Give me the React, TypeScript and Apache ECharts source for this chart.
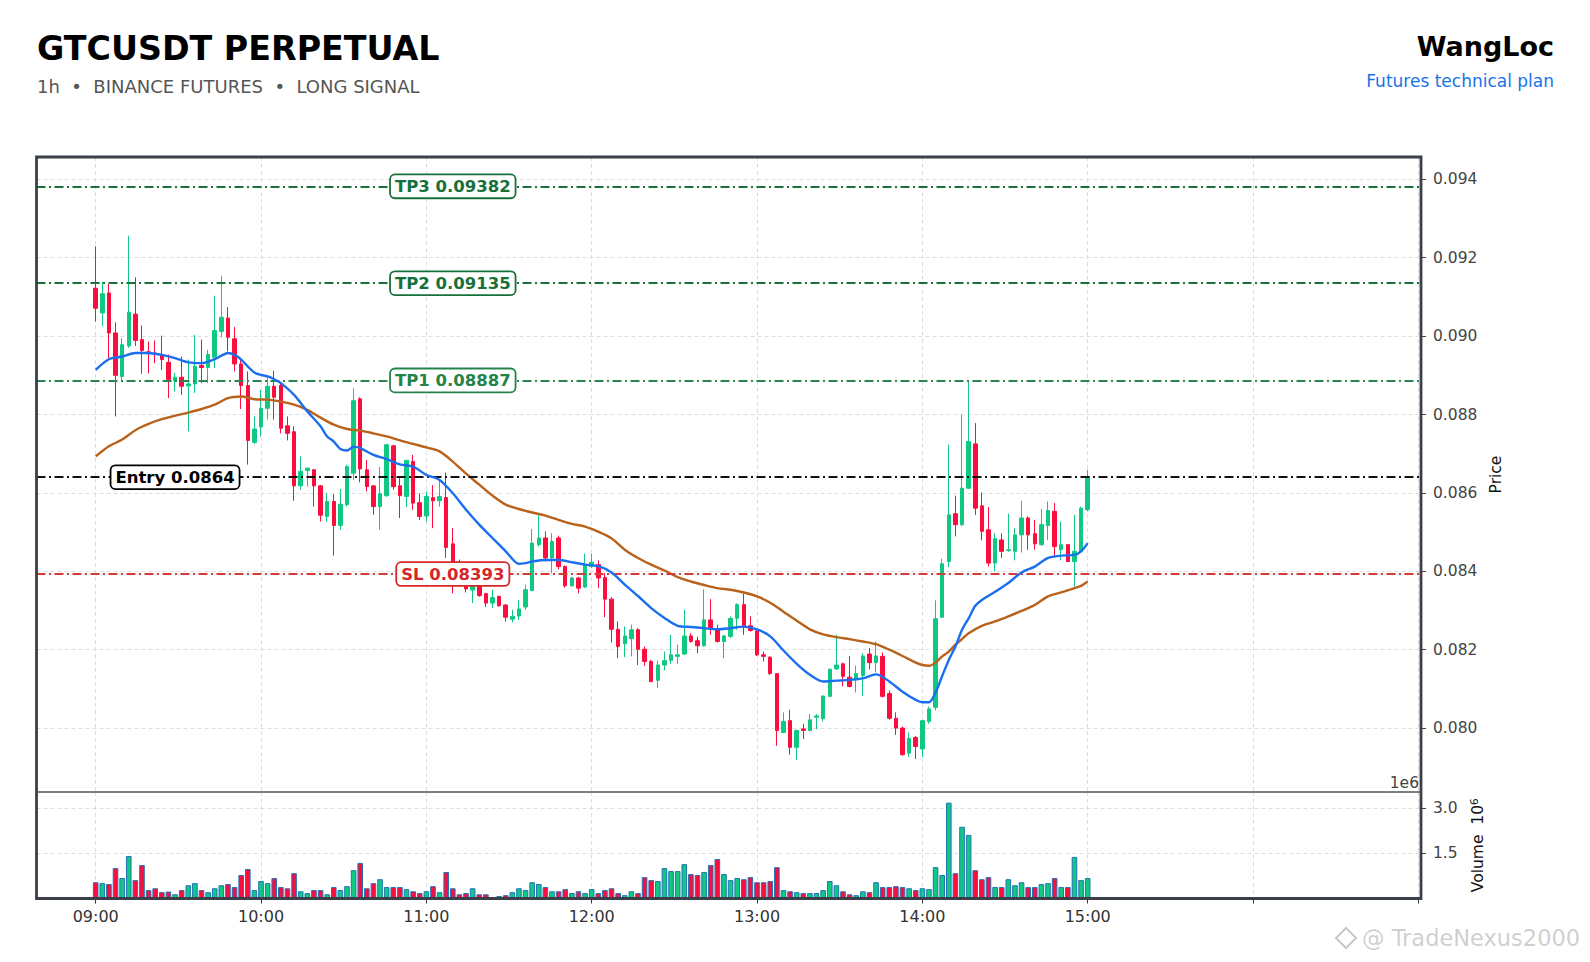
import React, { useEffect, useRef } from "react";
import * as echarts from "echarts";

// ---- Data ----
// candles: [open, close, low, high], one per 2.4-min slot from 09:00 (index 0) to 15:00 (index 150)
const candles: number[][] = [
  [0.09122, 0.09071, 0.09037, 0.09229], [0.09059, 0.09108, 0.09025, 0.09139], [0.0911, 0.09008, 0.08944, 0.09133],
  [0.09008, 0.089, 0.08795, 0.09035], [0.08897, 0.08978, 0.08883, 0.08995], [0.08975, 0.09061, 0.0897, 0.09256],
  [0.09056, 0.08989, 0.08975, 0.0915], [0.08991, 0.08963, 0.08904, 0.09027], [0.0896, 0.08955, 0.08905, 0.08986],
  [0.08957, 0.08953, 0.08931, 0.08989], [0.08953, 0.0894, 0.08914, 0.09001], [0.08933, 0.08889, 0.08842, 0.08953],
  [0.08887, 0.08895, 0.08859, 0.08906], [0.08895, 0.08872, 0.0885, 0.08948], [0.08873, 0.08878, 0.08757, 0.0894],
  [0.08878, 0.08923, 0.08855, 0.09003], [0.08925, 0.0892, 0.0888, 0.08991], [0.0892, 0.08953, 0.0888, 0.08965],
  [0.08946, 0.09014, 0.08918, 0.09103], [0.09012, 0.09048, 0.08997, 0.09154], [0.09046, 0.08997, 0.08961, 0.09074],
  [0.08993, 0.08929, 0.0891, 0.09023], [0.08929, 0.08874, 0.08814, 0.0894], [0.08874, 0.08734, 0.08672, 0.0891],
  [0.08729, 0.08763, 0.08725, 0.08795], [0.08768, 0.08816, 0.08744, 0.08863], [0.08816, 0.08872, 0.08787, 0.08895],
  [0.08872, 0.08844, 0.08787, 0.08912], [0.08874, 0.08765, 0.08752, 0.0888], [0.08771, 0.08752, 0.08734, 0.08795],
  [0.08756, 0.08618, 0.0858, 0.0877], [0.08618, 0.08655, 0.08608, 0.08693], [0.08657, 0.08663, 0.08616, 0.08665],
  [0.08659, 0.08618, 0.08565, 0.08661], [0.08618, 0.08543, 0.08527, 0.0862], [0.0854, 0.08578, 0.08526, 0.086],
  [0.08578, 0.08517, 0.0844, 0.08597], [0.08517, 0.08571, 0.08506, 0.0861], [0.0857, 0.08667, 0.08565, 0.08672],
  [0.0865, 0.08835, 0.08633, 0.08867], [0.0884, 0.08661, 0.08627, 0.08844], [0.08659, 0.08616, 0.08604, 0.08684],
  [0.08618, 0.08565, 0.08544, 0.0862], [0.08565, 0.08598, 0.08506, 0.08666], [0.08593, 0.08723, 0.0859, 0.08725],
  [0.0872, 0.08616, 0.08608, 0.08723], [0.08618, 0.08593, 0.08536, 0.08642], [0.08591, 0.08683, 0.08564, 0.08683],
  [0.0868, 0.08574, 0.08557, 0.08697], [0.08575, 0.0854, 0.08531, 0.08599], [0.08541, 0.08591, 0.08527, 0.08604],
  [0.08588, 0.0858, 0.0851, 0.0862], [0.0858, 0.08591, 0.08565, 0.08633], [0.08588, 0.08461, 0.08434, 0.08652],
  [0.0847, 0.08412, 0.08344, 0.0851], [0.08412, 0.0838, 0.0836, 0.0843], [0.0838, 0.08355, 0.08346, 0.08395],
  [0.08352, 0.0837, 0.08319, 0.08385], [0.08361, 0.08338, 0.08335, 0.0837], [0.08343, 0.08319, 0.08309, 0.08345],
  [0.08319, 0.08333, 0.08306, 0.08353], [0.08336, 0.08312, 0.0831, 0.08338], [0.08314, 0.08283, 0.08272, 0.08316],
  [0.08278, 0.08285, 0.0827, 0.08302], [0.08286, 0.08304, 0.08276, 0.08327], [0.08309, 0.08353, 0.08302, 0.08366],
  [0.08351, 0.08472, 0.08349, 0.08508], [0.08468, 0.08485, 0.08463, 0.08544], [0.08485, 0.08434, 0.08425, 0.08502],
  [0.08434, 0.08476, 0.08395, 0.08497], [0.08485, 0.08412, 0.08405, 0.08491], [0.08412, 0.08363, 0.08358, 0.08415],
  [0.08363, 0.08383, 0.0836, 0.08386], [0.08383, 0.08357, 0.08344, 0.08386], [0.0836, 0.08417, 0.08357, 0.08445],
  [0.08412, 0.08423, 0.08408, 0.08445], [0.08417, 0.08383, 0.08357, 0.08428], [0.08384, 0.08329, 0.08283, 0.08395],
  [0.08329, 0.08252, 0.08218, 0.08334], [0.08252, 0.08208, 0.08178, 0.08272], [0.08215, 0.08235, 0.08181, 0.08259],
  [0.08228, 0.08251, 0.08183, 0.08264], [0.08251, 0.08201, 0.08161, 0.08255], [0.08201, 0.0817, 0.08159, 0.08208],
  [0.0817, 0.08119, 0.08117, 0.08174], [0.08122, 0.08161, 0.08102, 0.08172], [0.08161, 0.08172, 0.08147, 0.08195],
  [0.08173, 0.08187, 0.08164, 0.08238], [0.08183, 0.08187, 0.08164, 0.08213], [0.08189, 0.08235, 0.08187, 0.08302],
  [0.08235, 0.08221, 0.08218, 0.08242], [0.08223, 0.0821, 0.08191, 0.08233], [0.0821, 0.08276, 0.08208, 0.08354],
  [0.08276, 0.08255, 0.08238, 0.08329], [0.08251, 0.08221, 0.08218, 0.08264], [0.08221, 0.08235, 0.08178, 0.08238],
  [0.08234, 0.0828, 0.0823, 0.08285], [0.0828, 0.08315, 0.08251, 0.08318], [0.08315, 0.08258, 0.08238, 0.08343],
  [0.08261, 0.08249, 0.08246, 0.08285], [0.08248, 0.08187, 0.08184, 0.0825], [0.08187, 0.08183, 0.0817, 0.08195],
  [0.08181, 0.08139, 0.08136, 0.08183], [0.08139, 0.07994, 0.07955, 0.0814], [0.07989, 0.08017, 0.07987, 0.0804],
  [0.08019, 0.07951, 0.07932, 0.08047], [0.07951, 0.07994, 0.07919, 0.07996], [0.07998, 0.07994, 0.07972, 0.08011],
  [0.07994, 0.08021, 0.07992, 0.08036], [0.08028, 0.08031, 0.07997, 0.08036], [0.08024, 0.08082, 0.08017, 0.08082],
  [0.08081, 0.0815, 0.08079, 0.08152], [0.08151, 0.08161, 0.08149, 0.08238], [0.08164, 0.08132, 0.08106, 0.08167],
  [0.0813, 0.08106, 0.08104, 0.08184], [0.08123, 0.08139, 0.08091, 0.08159], [0.08134, 0.08184, 0.08082, 0.08191],
  [0.08189, 0.08167, 0.0815, 0.08204], [0.08167, 0.08184, 0.08142, 0.08221], [0.08183, 0.08081, 0.08078, 0.08193],
  [0.08088, 0.08025, 0.08021, 0.08096], [0.08025, 0.08, 0.07983, 0.0804], [0.08, 0.07932, 0.0793, 0.08004],
  [0.07936, 0.07974, 0.07926, 0.07989], [0.07976, 0.07953, 0.07921, 0.0798], [0.07947, 0.08019, 0.07926, 0.08021],
  [0.08017, 0.08049, 0.08011, 0.08055], [0.08053, 0.08279, 0.08045, 0.08326], [0.08283, 0.08419, 0.08281, 0.08432],
  [0.08425, 0.08544, 0.08411, 0.08723], [0.08547, 0.08519, 0.08489, 0.08593], [0.08519, 0.08612, 0.08515, 0.08799],
  [0.08612, 0.08731, 0.0861, 0.08884], [0.08725, 0.08561, 0.08544, 0.08778], [0.08567, 0.08502, 0.08479, 0.08601],
  [0.08506, 0.08421, 0.08412, 0.08564], [0.08421, 0.08483, 0.084, 0.08497], [0.0848, 0.08451, 0.08434, 0.08497],
  [0.08453, 0.08455, 0.0845, 0.08547], [0.08451, 0.08493, 0.08428, 0.0851], [0.08493, 0.08536, 0.08448, 0.0858],
  [0.08536, 0.08493, 0.08455, 0.0854], [0.08496, 0.0847, 0.08455, 0.08531], [0.08468, 0.08519, 0.08465, 0.08559],
  [0.08517, 0.08555, 0.0848, 0.08578], [0.08553, 0.08463, 0.08438, 0.08574], [0.08455, 0.08468, 0.08429, 0.08527],
  [0.08468, 0.08425, 0.08425, 0.08468], [0.08425, 0.08451, 0.08361, 0.08544], [0.08451, 0.08561, 0.08449, 0.08565],
  [0.08557, 0.08642, 0.08553, 0.08659],
];

// volume in millions, one per candle
const volumeM: number[] = [
  0.54, 0.51, 0.48, 1.01, 0.68, 1.41, 0.61, 1.11, 0.28, 0.34, 0.21, 0.23, 0.14, 0.28, 0.44, 0.51, 0.28, 0.21, 0.34, 0.44,
  0.48, 0.38, 0.78, 0.98, 0.28, 0.58, 0.51, 0.68, 0.38, 0.34, 0.84, 0.24, 0.18, 0.28, 0.28, 0.14, 0.38, 0.28, 0.41, 0.94,
  1.18, 0.34, 0.51, 0.64, 0.38, 0.38, 0.38, 0.31, 0.24, 0.18, 0.24, 0.41, 0.21, 0.88, 0.34, 0.14, 0.18, 0.34, 0.14, 0.14,
  0.03, 0.08, 0.11, 0.21, 0.34, 0.28, 0.54, 0.48, 0.38, 0.24, 0.24, 0.31, 0.18, 0.24, 0.18, 0.31, 0.18, 0.28, 0.34, 0.18,
  0.11, 0.24, 0.18, 0.71, 0.61, 0.58, 1.01, 0.91, 0.91, 1.14, 0.81, 0.78, 0.88, 1.11, 1.31, 0.81, 0.61, 0.68, 0.64, 0.71,
  0.54, 0.54, 0.58, 1.04, 0.28, 0.24, 0.21, 0.18, 0.18, 0.18, 0.28, 0.58, 0.44, 0.24, 0.14, 0.11, 0.24, 0.21, 0.54, 0.38,
  0.38, 0.41, 0.38, 0.34, 0.28, 0.34, 0.31, 1.04, 0.78, 3.18, 0.84, 2.38, 2.11, 0.94, 0.64, 0.71, 0.38, 0.38, 0.64, 0.44,
  0.54, 0.38, 0.38, 0.48, 0.51, 0.68, 0.38, 0.38, 1.38, 0.61, 0.68,
];

// fast moving average (blue): [candle index, value]
const maFast: number[][] = [
  [0, 0.08914], [2, 0.08941], [4, 0.08948], [6, 0.08957], [8, 0.08957], [10, 0.08952], [12, 0.08944], [14, 0.08933],
  [16, 0.08931], [18, 0.08941], [19, 0.0895], [20, 0.08957], [21, 0.08952], [22, 0.0894], [24, 0.08907], [26, 0.08897],
  [27, 0.0889], [28, 0.0888], [30, 0.0885], [32, 0.08808], [34, 0.0877], [35, 0.08744], [36, 0.08731], [37, 0.08712],
  [38, 0.08708], [39, 0.08718], [40, 0.08714], [42, 0.08697], [44, 0.08686], [46, 0.08673], [48, 0.08667], [50, 0.08646],
  [52, 0.08633], [54, 0.08599], [56, 0.08557], [58, 0.08519], [60, 0.08485], [62, 0.08451], [64, 0.08419], [65, 0.08421],
  [66, 0.08425], [68, 0.08429], [70, 0.08429], [72, 0.08423], [74, 0.08417], [76, 0.08413], [78, 0.08397], [80, 0.08366],
  [82, 0.08337], [84, 0.08306], [86, 0.08281], [88, 0.08261], [90, 0.08258], [92, 0.08255], [94, 0.08252], [96, 0.08255],
  [98, 0.08259], [100, 0.08252], [102, 0.08234], [104, 0.08198], [106, 0.08164], [108, 0.08136], [110, 0.08119],
  [112, 0.08121], [114, 0.08123], [116, 0.08127], [118, 0.08137], [120, 0.08119], [122, 0.08093], [124, 0.08072],
  [125, 0.08066], [126, 0.08066], [127, 0.08091], [128, 0.08133], [129, 0.08174], [130, 0.08208], [131, 0.08251],
  [132, 0.0828], [133, 0.08312], [134, 0.08327], [136, 0.08348], [138, 0.0837], [140, 0.08397], [142, 0.08412],
  [144, 0.08434], [146, 0.0844], [148, 0.08442], [149, 0.08451], [150, 0.08472],
];

// slow moving average (brown): [candle index, value]
const maSlow: number[][] = [
  [0, 0.08693], [2, 0.08719], [4, 0.08736], [6, 0.0876], [8, 0.08776], [10, 0.08788], [12, 0.08797], [14, 0.08805],
  [16, 0.08814], [18, 0.08825], [20, 0.08842], [22, 0.08846], [24, 0.08839], [26, 0.08838], [28, 0.08833], [30, 0.08825],
  [32, 0.08812], [34, 0.08792], [36, 0.08774], [38, 0.08763], [40, 0.08759], [42, 0.08752], [44, 0.08744], [46, 0.08734],
  [48, 0.08725], [50, 0.08716], [52, 0.08706], [54, 0.0868], [56, 0.08649], [58, 0.08621], [60, 0.08593], [62, 0.0857],
  [64, 0.08559], [66, 0.0855], [68, 0.08542], [70, 0.08531], [72, 0.08521], [74, 0.08514], [76, 0.08501], [78, 0.08484],
  [80, 0.08455], [82, 0.08434], [84, 0.08417], [86, 0.08402], [88, 0.08385], [90, 0.08374], [92, 0.08365], [94, 0.08357],
  [96, 0.08353], [98, 0.08346], [100, 0.08336], [102, 0.0832], [104, 0.08297], [106, 0.08274], [108, 0.08252],
  [110, 0.08239], [112, 0.08232], [114, 0.08227], [116, 0.08221], [118, 0.08214], [120, 0.082], [122, 0.08184],
  [124, 0.08167], [125, 0.08161], [126, 0.08159], [127, 0.08167], [128, 0.08183], [129, 0.08195], [130, 0.08213],
  [131, 0.08227], [132, 0.08242], [134, 0.08261], [136, 0.08272], [138, 0.08285], [140, 0.08299], [142, 0.08314],
  [144, 0.08336], [146, 0.08346], [148, 0.08357], [149, 0.08363], [150, 0.08374],
];

// trade plan levels
const levelNames: string[] = ["TP3", "TP2", "TP1", "Entry", "SL"];
const levelValues: number[] = [0.09382, 0.09135, 0.08887, 0.0864, 0.08393];
const levelLabelAt: number[] = [54, 54, 54, 12, 54];
const levelColors: string[] = ["#17703a", "#17703a", "#23844a", "#000000", "#d62728"];
const levelLineColors: string[] = ["#1a7038", "#1a7038", "#2a8550", "#111111", "#d63a36"];

// axes
const timeTickPos: number[] = [0, 25, 50, 75, 100, 125, 150, 175, 200];
const timeTickLabels: string[] = ["09:00", "10:00", "11:00", "12:00", "13:00", "14:00", "15:00", "", ""];
const priceTicks: number[] = [0.08, 0.082, 0.084, 0.086, 0.088, 0.09, 0.092, 0.094];
const volumeTicks: number[] = [1.5, 3.0];

const UP = "#0fc882";
const DOWN = "#fb0d3e";
const FONT = "DejaVu Sans";

const GRID_L = 36.5;
const GRID_R = 1421;
const TOP = 157;
const SPLIT = 792;
const BOTTOM = 898.5;

export default function App() {
  const ref = useRef<HTMLDivElement>(null);

  useEffect(() => {
    if (!ref.current) return;
    const chart = echarts.init(ref.current, undefined, { renderer: "svg" });

    const candleData = candles.map((c, i) => [i, c[0], c[1], c[2], c[3]]);
    const volData = volumeM.map((v, i) => ({
      value: [i, v],
      itemStyle: { color: candles[i][1] >= candles[i][0] ? UP : DOWN },
    }));
    const dashDot = [9, 3.5, 2, 3.5];

    const splitStyle = { show: true, lineStyle: { color: "#dedede", type: [4, 3], width: 1 } };

    const option: any = {
      animation: false,
      backgroundColor: "#ffffff",
      textStyle: { fontFamily: FONT },
      grid: [
        { left: GRID_L, right: 1590 - GRID_R, top: TOP, height: SPLIT - TOP },
        { left: GRID_L, right: 1590 - GRID_R, top: SPLIT, height: BOTTOM - SPLIT },
      ],
      xAxis: [
        {
          type: "value", gridIndex: 0, min: -8.95, max: 200.4,
          axisLine: { show: false, onZero: false },
          axisTick: { show: false, customValues: timeTickPos },
          axisLabel: { show: false, customValues: timeTickPos },
          splitLine: splitStyle,
        },
        {
          type: "value", gridIndex: 1, min: -8.95, max: 200.4,
          axisLine: { show: false, onZero: false },
          axisTick: { show: true, customValues: timeTickPos, length: 5, lineStyle: { color: "#333", width: 1 } },
          axisLabel: {
            customValues: timeTickPos, color: "#333", fontSize: 16, margin: 10, fontFamily: FONT,
            formatter: (v: number) => {
              const k = timeTickPos.indexOf(Math.round(v));
              return k >= 0 ? timeTickLabels[k] : "";
            },
          },
          splitLine: splitStyle,
        },
      ],
      yAxis: [
        {
          type: "value", gridIndex: 0, position: "right", min: 0.07837, max: 0.094569,
          axisLine: { show: false, onZero: false },
          axisTick: { show: true, customValues: priceTicks, length: 5, lineStyle: { color: "#444" } },
          axisLabel: {
            customValues: priceTicks, color: "#444", fontSize: 15.5, margin: 12, fontFamily: FONT,
            formatter: (v: number) => v.toFixed(3),
          },
          splitLine: splitStyle,
          name: "Price", nameLocation: "middle", nameGap: 67,
          nameTextStyle: { color: "#111", fontSize: 15.5, fontFamily: FONT },
        },
        {
          type: "value", gridIndex: 1, position: "right", min: 0, max: 3.533,
          axisLine: { show: false, onZero: false },
          axisTick: { show: true, customValues: volumeTicks, length: 5, lineStyle: { color: "#444" } },
          axisLabel: {
            customValues: volumeTicks, color: "#444", fontSize: 15.5, margin: 12, fontFamily: FONT,
            formatter: (v: number) => v.toFixed(1),
          },
          splitLine: splitStyle,
          name: "{a|Volume  10}{s|6}", nameLocation: "middle", nameGap: 46,
          nameTextStyle: {
            rich: {
              a: { color: "#111", fontSize: 15.5, fontFamily: FONT },
              s: { color: "#111", fontSize: 10.5, fontFamily: FONT, verticalAlign: "top", padding: [0, 0, 8, 0] },
            },
          },
        },
      ],
      series: [
        {
          type: "candlestick", xAxisIndex: 0, yAxisIndex: 0,
          dimensions: ["x", "open", "close", "low", "high"],
          encode: { x: "x", y: ["open", "close", "low", "high"] },
          data: candleData, barWidth: 4,
          itemStyle: { color: UP, color0: DOWN, borderColor: UP, borderColor0: DOWN, borderWidth: 1 },
          z: 3,
        },
        {
          type: "line", xAxisIndex: 0, yAxisIndex: 0, data: maSlow, smooth: 0.3,
          showSymbol: false, symbol: "none", lineStyle: { color: "#b8621b", width: 2.4 }, z: 4,
        },
        {
          type: "line", xAxisIndex: 0, yAxisIndex: 0, data: maFast, smooth: 0.3,
          showSymbol: false, symbol: "none", lineStyle: { color: "#1a6ff0", width: 2.4 }, z: 5,
          markLine: {
            silent: true, symbol: "none", animation: false, precision: 6,
            label: { show: false },
            emphasis: { disabled: true },
            data: levelValues.map((v, k) => ({
              yAxis: v,
              lineStyle: { color: levelLineColors[k], type: dashDot, width: 1.8 },
            })),
          },
        },
        {
          type: "scatter", xAxisIndex: 0, yAxisIndex: 0, symbolSize: 1, z: 10,
          itemStyle: { color: "rgba(0,0,0,0)", opacity: 1 },
          data: levelValues.map((v, k) => ({
            value: [levelLabelAt[k], v],
            name: `${levelNames[k]} ${v}`,
            label: {
              show: true, position: "inside", formatter: (p: any) => p.name,
              color: levelColors[k], fontWeight: "bold", fontSize: 16.5, fontFamily: FONT,
              backgroundColor: "#ffffff", borderColor: levelColors[k], borderWidth: 1.8,
              borderRadius: 4, padding: [3, 4, 2, 4], opacity: 1,
            },
          })),
        },
        {
          type: "bar", xAxisIndex: 1, yAxisIndex: 1, data: volData, barWidth: 5.6,
          itemStyle: { borderColor: "#2273b5", borderWidth: 1 },
        },
      ],
      graphic: [
        {
          type: "rect", z: 100, silent: true,
          shape: { x: GRID_L, y: TOP, width: GRID_R - GRID_L, height: BOTTOM - TOP },
          style: { fill: "none", stroke: "#3b4048", lineWidth: 2.8 },
        },
        {
          type: "line", z: 100, silent: true,
          shape: { x1: GRID_L, y1: SPLIT, x2: GRID_R, y2: SPLIT },
          style: { stroke: "#555", lineWidth: 1.5 },
        },
        {
          type: "text", z: 100, left: 37, top: 32,
          style: { text: "GTCUSDT PERPETUAL", fontFamily: FONT, fontWeight: "bold", fontSize: 33.3, fill: "#000" },
        },
        {
          type: "text", z: 100, left: 37, top: 77,
          style: { text: "1h  \u2022  BINANCE FUTURES  \u2022  LONG SIGNAL", fontFamily: FONT, fontSize: 18, fill: "#555" },
        },
        {
          type: "text", z: 100, right: 36, top: 33,
          style: { text: "WangLoc", fontFamily: FONT, fontWeight: "bold", fontSize: 27, fill: "#000" },
        },
        {
          type: "text", z: 100, right: 36, top: 72,
          style: { text: "Futures technical plan", fontFamily: FONT, fontSize: 17, fill: "#1a73e8" },
        },
        {
          type: "text", z: 100, x: 1419, y: 775,
          style: { text: "1e6", fontFamily: FONT, fontSize: 15.5, fill: "#444", align: "right" },
        },
        {
          type: "polygon", z: 100, silent: true,
          shape: { points: [[1346, 928], [1356, 938], [1346, 948], [1336, 938]] },
          style: { fill: "none", stroke: "rgba(175,175,175,0.7)", lineWidth: 2 },
        },
        {
          type: "text", z: 100, x: 1362, y: 926,
          style: {
            text: "@ TradeNexus2000", fontFamily: FONT, fontSize: 22.5,
            fill: "rgba(175,175,175,0.6)", stroke: "rgba(255,255,255,0.8)", lineWidth: 1,
          },
        },
      ],
    };

    chart.setOption(option);
    return () => chart.dispose();
  }, []);

  return (
    <div
      ref={ref}
      style={{ position: "fixed", left: 0, top: 0, width: 1590, height: 962, background: "#fff" }}
    />
  );
}
